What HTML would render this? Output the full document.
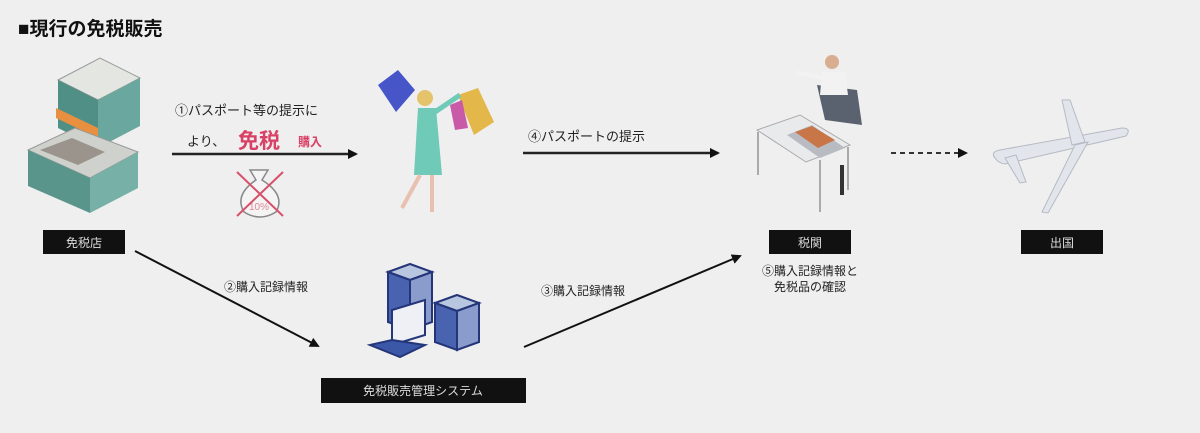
<!DOCTYPE html>
<html><head><meta charset="utf-8"><style>
html,body{margin:0;padding:0;background:#efefef;}
svg{display:block;font-family:"Liberation Sans","Noto Sans CJK JP",sans-serif;}
</style></head><body>
<svg width="1200" height="433" viewBox="0 0 1200 433" xmlns="http://www.w3.org/2000/svg">
<defs>
<marker id="ah" markerWidth="10" markerHeight="10" refX="8" refY="5" orient="auto" markerUnits="userSpaceOnUse"><path d="M0,0 L10,5 L0,10 z" fill="#111"/></marker>
</defs>
<rect width="1200" height="433" fill="#efefef"/>
<text x="18" y="35" font-size="19" font-weight="bold" fill="#111">■現行の免税販売</text>

<!-- building -->
<g>
<polygon points="58,80 100,58 140,78 98,100" fill="#e4e6e2" stroke="#999"/>
<polygon points="58,80 98,100 98,148 58,128" fill="#4f8f86"/>
<polygon points="98,100 140,78 140,126 98,148" fill="#6aa79e"/>
<polygon points="56,108 98,128 98,138 56,118" fill="#e99040"/>
<polygon points="28,150 75,128 138,152 90,178" fill="#cfd2cc" stroke="#999"/>
<polygon points="28,150 90,178 90,213 28,186" fill="#5a958c"/>
<polygon points="90,178 138,152 138,188 90,213" fill="#76b0a7"/>
<polygon points="40,150 72,138 105,152 78,165" fill="#9a948c"/>
</g>
<rect x="43" y="230" width="82" height="24" fill="#111"/>
<text x="84" y="247" font-size="12" fill="#ddd" text-anchor="middle">免税店</text>

<!-- arrow 1 -->
<text x="175" y="115" font-size="13" fill="#222">①パスポート等の提示に</text>
<text x="187" y="146" font-size="13" fill="#222">より、</text>
<text x="238" y="148" font-size="21" font-weight="bold" fill="#d94065">免税</text>
<text x="298" y="146" font-size="12" font-weight="bold" fill="#d94065">購入</text>
<line x1="172" y1="154" x2="356" y2="154" stroke="#222" stroke-width="2.5" marker-end="url(#ah)"/>
<path d="M250,170 L268,170 L262,180 Q286,195 276,212 Q260,222 244,212 Q234,195 256,180 z" fill="#f4f4f4" stroke="#888" stroke-width="1.5"/>
<text x="259" y="210" font-size="10" fill="#e08898" text-anchor="middle">10%</text>
<line x1="237" y1="172" x2="283" y2="216" stroke="#d8506a" stroke-width="2"/>
<line x1="283" y1="172" x2="237" y2="216" stroke="#d8506a" stroke-width="2"/>

<!-- shopper -->
<polygon points="378,85 398,70 415,90 396,112" fill="#4656c8"/>
<polygon points="458,95 478,88 494,122 474,135" fill="#e4b74a"/>
<polygon points="450,105 462,100 468,128 455,130" fill="#c85aa8"/>
<circle cx="425" cy="98" r="8" fill="#e4c36a"/>
<path d="M418,108 L436,108 L442,175 L414,175 z" fill="#6fcab8"/>
<line x1="435" y1="112" x2="460" y2="95" stroke="#6fcab8" stroke-width="5"/>
<line x1="420" y1="175" x2="402" y2="208" stroke="#e8c0b0" stroke-width="4"/>
<line x1="432" y1="175" x2="432" y2="212" stroke="#e8c0b0" stroke-width="4"/>

<!-- arrow 4 -->
<text x="528" y="141" font-size="13" fill="#222">④パスポートの提示</text>
<line x1="523" y1="153" x2="718" y2="153" stroke="#222" stroke-width="2.5" marker-end="url(#ah)"/>

<!-- customs -->
<g>
<polygon points="757,130 800,115 850,145 806,162" fill="#e9eaec" stroke="#aaa"/>
<line x1="758" y1="132" x2="758" y2="175" stroke="#aaa" stroke-width="2"/>
<line x1="820" y1="160" x2="820" y2="212" stroke="#aaa" stroke-width="2"/>
<line x1="848" y1="147" x2="848" y2="190" stroke="#aaa" stroke-width="2"/>
<polygon points="787,135 812,125 845,148 820,158" fill="#b8bcc2"/>
<polygon points="795,132 812,126 835,140 818,148" fill="#c87648"/>
<polygon points="817,85 857,90 862,125 825,120" fill="#5a6270"/>
<circle cx="832" cy="62" r="7" fill="#d9ad90"/>
<path d="M822,72 L845,72 L848,95 L820,95z" fill="#f2f2f2"/>
<line x1="822" y1="78" x2="797" y2="72" stroke="#f2f2f2" stroke-width="4"/>
<line x1="842" y1="165" x2="842" y2="195" stroke="#333" stroke-width="4"/>
</g>
<rect x="769" y="230" width="82" height="24" fill="#111"/>
<text x="810" y="247" font-size="12" fill="#ddd" text-anchor="middle">税関</text>
<text x="810" y="275" font-size="12" fill="#222" text-anchor="middle">⑤購入記録情報と</text>
<text x="810" y="291" font-size="12" fill="#222" text-anchor="middle">免税品の確認</text>

<line x1="891" y1="153" x2="966" y2="153" stroke="#333" stroke-width="2" stroke-dasharray="5,4" marker-end="url(#ah)"/>

<!-- plane -->
<g fill="#e2e6ec" stroke="#b5bac3" stroke-width="1">
<path d="M995,158 Q990,152 1000,150 L1122,128 Q1132,128 1126,136 L1005,164 Q998,163 995,158 z"/>
<path d="M1062,100 L1070,100 L1085,142 L1072,145 z"/>
<path d="M1075,145 L1088,142 L1048,213 L1042,212 z"/>
<path d="M1005,158 L1016,155 L1026,182 L1020,183 z"/>
</g>
<rect x="1021" y="230" width="82" height="24" fill="#111"/>
<text x="1062" y="247" font-size="12" fill="#ddd" text-anchor="middle">出国</text>

<line x1="135" y1="251" x2="318" y2="346" stroke="#111" stroke-width="2" marker-end="url(#ah)"/>
<text x="224" y="291" font-size="12" fill="#222">②購入記録情報</text>

<g>
<polygon points="388,272 410,264 432,272 410,280" fill="#b9c6df" stroke="#24357a" stroke-width="2"/>
<polygon points="388,272 410,280 410,330 388,322" fill="#4a63b0" stroke="#24357a" stroke-width="2"/>
<polygon points="410,280 432,272 432,322 410,330" fill="#8a9ccc" stroke="#24357a" stroke-width="2"/>
<polygon points="435,303 457,295 479,303 457,311" fill="#b9c6df" stroke="#24357a" stroke-width="2"/>
<polygon points="435,303 457,311 457,350 435,342" fill="#4a63b0" stroke="#24357a" stroke-width="2"/>
<polygon points="457,311 479,303 479,342 457,350" fill="#8a9ccc" stroke="#24357a" stroke-width="2"/>
<polygon points="392,310 425,300 425,335 392,345" fill="#eef0f6" stroke="#24357a" stroke-width="2"/>
<polygon points="370,345 392,340 425,345 400,357" fill="#3b57a8" stroke="#24357a" stroke-width="2"/>
</g>
<rect x="321" y="378" width="205" height="25" fill="#111"/>
<text x="423" y="395" font-size="12" fill="#ddd" text-anchor="middle">免税販売管理システム</text>

<line x1="524" y1="347" x2="740" y2="256" stroke="#111" stroke-width="2" marker-end="url(#ah)"/>
<text x="541" y="295" font-size="12" fill="#222">③購入記録情報</text>
</svg>
</body></html>
